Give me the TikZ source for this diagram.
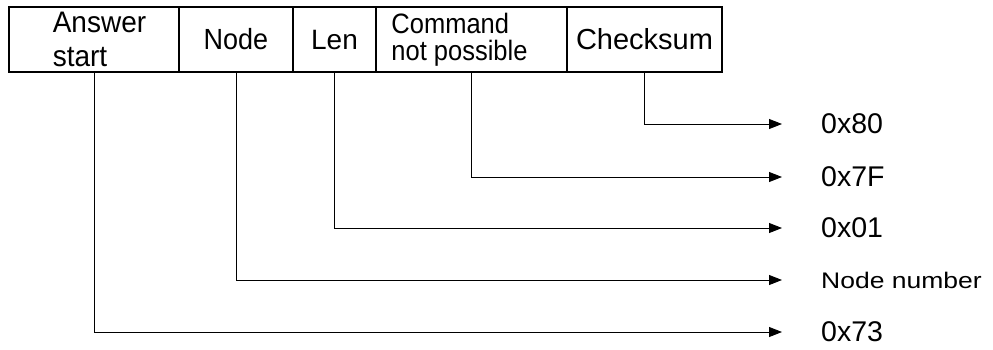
\documentclass[tikz,border=0pt]{standalone}
\usepackage{fontspec}
\usepackage{graphicx}
\setmainfont{Liberation Sans}
\usetikzlibrary{positioning, arrows.meta}
\newcommand{\vstr}[2]{\scalebox{1}[#1]{#2}}

\begin{document}
\begin{tikzpicture}[x=1pt, y=-1pt,
    field/.style={draw, line width=1.1pt, inner sep=0pt, outer sep=0pt,
        minimum height=65pt, align=left},
    value/.style={inner sep=0pt},
    link/.style={line width=0.9pt, -{Triangle[length=13pt, width=10pt]}}]
    \useasboundingbox (0,0) rectangle (993,349);
    % message fields
    \foreach \n/\x/\w/\f/\l/\t in {ans/9/170/28/34/{\vstr{1.06}{Answer}\hspace*{-11pt}\\\vstr{1.06}{start}},
        nod/179/114/27/34/{\vstr{1.08}{Node}},len/293/83/28/34/Len,
        cmd/376/191/25.5/26.5/{\vstr{1.1}{Command}\\\vstr{1.1}{not possible}\hspace*{24pt}},
        chk/567/155/29/34/Checksum} {
        \node[field, minimum width=\w pt, font=\fontsize{\f}{\l}\selectfont]
            (\n) at (\x+\w/2,39.5) {\t};
    }
    % values
    \foreach \n/\y/\v in {chk/124/0x80,cmd/177/0x7F,len/228/0x01,
        nod/280/{\fontsize{26.5}{26.5}\selectfont\vstr{0.85}{Node number}},ans/332/0x73} {
        \coordinate (e\n) at (782,\y);
        \node[value, right=39pt of e\n, font=\fontsize{28.5}{28.5}\selectfont] (v\n) {\v};
        \draw[link] (\n.south) |- (e\n);
    }
\end{tikzpicture}
\end{document}
